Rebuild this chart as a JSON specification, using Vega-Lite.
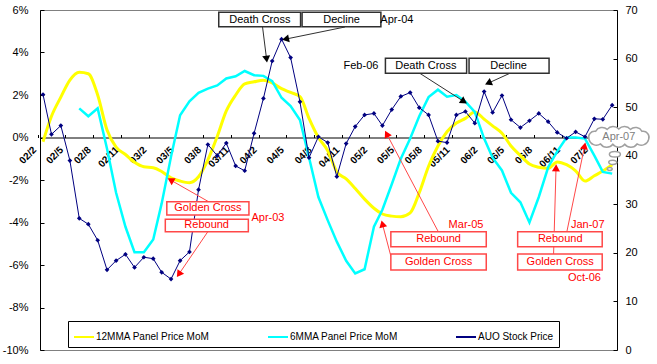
{
  "$schema": "https://vega.github.io/schema/vega-lite/v6.json",
  "width": 577,
  "height": 340,
  "autosize": {"type": "none"},
  "padding": {"left": 40, "top": 10, "right": 40, "bottom": 14},
  "background": "#ffffff",
  "config": {
    "view": {"stroke": "#808080", "strokeWidth": 1},
    "font": "Liberation Sans",
    "axis": {"labelFont": "Liberation Sans", "labelColor": "#000000", "domainColor": "#000000", "tickColor": "#000000", "grid": false, "labelFontSize": 11},
    "text": {"font": "Liberation Sans", "fontSize": 11}
  },
  "datasets": {
    "series": [
      {"date": "2002-02-01", "12MMA Panel Price MoM": -0.002, "6MMA Panel Price MoM": null, "AUO Stock Price": 52.6},
      {"date": "2002-03-01", "12MMA Panel Price MoM": 0.010, "6MMA Panel Price MoM": null, "AUO Stock Price": 44.4},
      {"date": "2002-04-01", "12MMA Panel Price MoM": 0.019, "6MMA Panel Price MoM": null, "AUO Stock Price": 46.2},
      {"date": "2002-05-01", "12MMA Panel Price MoM": 0.027, "6MMA Panel Price MoM": null, "AUO Stock Price": 39.0},
      {"date": "2002-06-01", "12MMA Panel Price MoM": 0.0307, "6MMA Panel Price MoM": 0.0137, "AUO Stock Price": 27.1},
      {"date": "2002-07-01", "12MMA Panel Price MoM": 0.030, "6MMA Panel Price MoM": 0.010, "AUO Stock Price": 25.9},
      {"date": "2002-08-01", "12MMA Panel Price MoM": 0.020, "6MMA Panel Price MoM": 0.0137, "AUO Stock Price": 22.6},
      {"date": "2002-09-01", "12MMA Panel Price MoM": 0.0035, "6MMA Panel Price MoM": -0.0053, "AUO Stock Price": 16.5},
      {"date": "2002-10-01", "12MMA Panel Price MoM": -0.0045, "6MMA Panel Price MoM": -0.026, "AUO Stock Price": 18.4},
      {"date": "2002-11-01", "12MMA Panel Price MoM": -0.008, "6MMA Panel Price MoM": -0.042, "AUO Stock Price": 19.7},
      {"date": "2002-12-01", "12MMA Panel Price MoM": -0.0117, "6MMA Panel Price MoM": -0.054, "AUO Stock Price": 17.0},
      {"date": "2003-01-01", "12MMA Panel Price MoM": -0.0138, "6MMA Panel Price MoM": -0.054, "AUO Stock Price": 19.1},
      {"date": "2003-02-01", "12MMA Panel Price MoM": -0.0142, "6MMA Panel Price MoM": -0.048, "AUO Stock Price": 18.8},
      {"date": "2003-03-01", "12MMA Panel Price MoM": -0.016, "6MMA Panel Price MoM": -0.031, "AUO Stock Price": 16.0},
      {"date": "2003-04-01", "12MMA Panel Price MoM": -0.019, "6MMA Panel Price MoM": -0.009, "AUO Stock Price": 14.6},
      {"date": "2003-05-01", "12MMA Panel Price MoM": -0.0205, "6MMA Panel Price MoM": 0.0105, "AUO Stock Price": 18.4},
      {"date": "2003-06-01", "12MMA Panel Price MoM": -0.0213, "6MMA Panel Price MoM": 0.017, "AUO Stock Price": 20.2},
      {"date": "2003-07-01", "12MMA Panel Price MoM": -0.0185, "6MMA Panel Price MoM": 0.021, "AUO Stock Price": 33.0},
      {"date": "2003-08-01", "12MMA Panel Price MoM": -0.0105, "6MMA Panel Price MoM": 0.023, "AUO Stock Price": 42.3},
      {"date": "2003-09-01", "12MMA Panel Price MoM": 0.0005, "6MMA Panel Price MoM": 0.0245, "AUO Stock Price": 40.0},
      {"date": "2003-10-01", "12MMA Panel Price MoM": 0.0125, "6MMA Panel Price MoM": 0.0278, "AUO Stock Price": 42.6},
      {"date": "2003-11-01", "12MMA Panel Price MoM": 0.020, "6MMA Panel Price MoM": 0.0288, "AUO Stock Price": 37.9},
      {"date": "2003-12-01", "12MMA Panel Price MoM": 0.0252, "6MMA Panel Price MoM": 0.0313, "AUO Stock Price": 36.9},
      {"date": "2004-01-01", "12MMA Panel Price MoM": 0.0262, "6MMA Panel Price MoM": 0.0293, "AUO Stock Price": 44.6},
      {"date": "2004-02-01", "12MMA Panel Price MoM": 0.027, "6MMA Panel Price MoM": 0.029, "AUO Stock Price": 51.8},
      {"date": "2004-03-01", "12MMA Panel Price MoM": 0.0257, "6MMA Panel Price MoM": 0.0265, "AUO Stock Price": 59.5},
      {"date": "2004-04-01", "12MMA Panel Price MoM": 0.023, "6MMA Panel Price MoM": 0.0187, "AUO Stock Price": 64.0},
      {"date": "2004-05-01", "12MMA Panel Price MoM": 0.0212, "6MMA Panel Price MoM": 0.0148, "AUO Stock Price": 60.2},
      {"date": "2004-06-01", "12MMA Panel Price MoM": 0.0192, "6MMA Panel Price MoM": 0.0082, "AUO Stock Price": 51.1},
      {"date": "2004-07-01", "12MMA Panel Price MoM": 0.009, "6MMA Panel Price MoM": -0.0094, "AUO Stock Price": 39.6},
      {"date": "2004-08-01", "12MMA Panel Price MoM": 0.000, "6MMA Panel Price MoM": -0.028, "AUO Stock Price": 43.9},
      {"date": "2004-09-01", "12MMA Panel Price MoM": -0.0062, "6MMA Panel Price MoM": -0.039, "AUO Stock Price": 42.7},
      {"date": "2004-10-01", "12MMA Panel Price MoM": -0.0161, "6MMA Panel Price MoM": -0.049, "AUO Stock Price": 35.7},
      {"date": "2004-11-01", "12MMA Panel Price MoM": -0.0195, "6MMA Panel Price MoM": -0.058, "AUO Stock Price": 42.5},
      {"date": "2004-12-01", "12MMA Panel Price MoM": -0.024, "6MMA Panel Price MoM": -0.064, "AUO Stock Price": 46.0},
      {"date": "2005-01-01", "12MMA Panel Price MoM": -0.029, "6MMA Panel Price MoM": -0.062, "AUO Stock Price": 48.4},
      {"date": "2005-02-01", "12MMA Panel Price MoM": -0.0333, "6MMA Panel Price MoM": -0.042, "AUO Stock Price": 48.7},
      {"date": "2005-03-01", "12MMA Panel Price MoM": -0.036, "6MMA Panel Price MoM": -0.034, "AUO Stock Price": 46.2},
      {"date": "2005-04-01", "12MMA Panel Price MoM": -0.037, "6MMA Panel Price MoM": -0.022, "AUO Stock Price": 49.5},
      {"date": "2005-05-01", "12MMA Panel Price MoM": -0.0373, "6MMA Panel Price MoM": -0.010, "AUO Stock Price": 52.2},
      {"date": "2005-06-01", "12MMA Panel Price MoM": -0.0355, "6MMA Panel Price MoM": -0.0005, "AUO Stock Price": 53.0},
      {"date": "2005-07-01", "12MMA Panel Price MoM": -0.026, "6MMA Panel Price MoM": 0.010, "AUO Stock Price": 49.9},
      {"date": "2005-08-01", "12MMA Panel Price MoM": -0.0135, "6MMA Panel Price MoM": 0.019, "AUO Stock Price": 48.4},
      {"date": "2005-09-01", "12MMA Panel Price MoM": -0.004, "6MMA Panel Price MoM": 0.0225, "AUO Stock Price": 43.0},
      {"date": "2005-10-01", "12MMA Panel Price MoM": 0.0027, "6MMA Panel Price MoM": 0.0192, "AUO Stock Price": 42.7},
      {"date": "2005-11-01", "12MMA Panel Price MoM": 0.0068, "6MMA Panel Price MoM": 0.020, "AUO Stock Price": 48.4},
      {"date": "2005-12-01", "12MMA Panel Price MoM": 0.009, "6MMA Panel Price MoM": 0.0169, "AUO Stock Price": 49.1},
      {"date": "2006-01-01", "12MMA Panel Price MoM": 0.012, "6MMA Panel Price MoM": 0.012, "AUO Stock Price": 46.7},
      {"date": "2006-02-01", "12MMA Panel Price MoM": 0.0086, "6MMA Panel Price MoM": -0.0005, "AUO Stock Price": 53.2},
      {"date": "2006-03-01", "12MMA Panel Price MoM": 0.0055, "6MMA Panel Price MoM": -0.0095, "AUO Stock Price": 48.9},
      {"date": "2006-04-01", "12MMA Panel Price MoM": 0.002, "6MMA Panel Price MoM": -0.0155, "AUO Stock Price": 52.4},
      {"date": "2006-05-01", "12MMA Panel Price MoM": -0.004, "6MMA Panel Price MoM": -0.026, "AUO Stock Price": 47.4},
      {"date": "2006-06-01", "12MMA Panel Price MoM": -0.0085, "6MMA Panel Price MoM": -0.0305, "AUO Stock Price": 45.8},
      {"date": "2006-07-01", "12MMA Panel Price MoM": -0.0125, "6MMA Panel Price MoM": -0.040, "AUO Stock Price": 47.2},
      {"date": "2006-08-01", "12MMA Panel Price MoM": -0.014, "6MMA Panel Price MoM": -0.028, "AUO Stock Price": 48.7},
      {"date": "2006-09-01", "12MMA Panel Price MoM": -0.0145, "6MMA Panel Price MoM": -0.014, "AUO Stock Price": 47.0},
      {"date": "2006-10-01", "12MMA Panel Price MoM": -0.0115, "6MMA Panel Price MoM": -0.0065, "AUO Stock Price": 44.8},
      {"date": "2006-11-01", "12MMA Panel Price MoM": -0.0128, "6MMA Panel Price MoM": 0.000, "AUO Stock Price": 43.6},
      {"date": "2006-12-01", "12MMA Panel Price MoM": -0.0157, "6MMA Panel Price MoM": 0.000, "AUO Stock Price": 44.9},
      {"date": "2007-01-01", "12MMA Panel Price MoM": -0.0205, "6MMA Panel Price MoM": -0.0005, "AUO Stock Price": 43.9},
      {"date": "2007-02-01", "12MMA Panel Price MoM": -0.018, "6MMA Panel Price MoM": -0.0085, "AUO Stock Price": 47.6},
      {"date": "2007-03-01", "12MMA Panel Price MoM": -0.0158, "6MMA Panel Price MoM": -0.0162, "AUO Stock Price": 47.5},
      {"date": "2007-04-01", "12MMA Panel Price MoM": -0.0128, "6MMA Panel Price MoM": -0.017, "AUO Stock Price": 50.4}
    ],
    "boxes": [
      {"label": "Death Cross", "signal": "bear", "date": "2003-09-06", "date2": "2004-06-03", "y": 0.0589, "y2": 0.0521},
      {"label": "Decline", "signal": "bear", "date": "2004-06-08", "date2": "2005-02-24", "y": 0.0589, "y2": 0.0521},
      {"label": "Death Cross", "signal": "bear", "date": "2005-03-11", "date2": "2005-12-05", "y": 0.0373, "y2": 0.0302},
      {"label": "Decline", "signal": "bear", "date": "2005-12-13", "date2": "2006-09-04", "y": 0.0373, "y2": 0.0302},
      {"label": "Golden Cross", "signal": "bull", "date": "2003-03-18", "date2": "2003-12-15", "y": -0.0302, "y2": -0.0365},
      {"label": "Rebound", "signal": "bull", "date": "2003-03-13", "date2": "2003-12-13", "y": -0.0385, "y2": -0.0443},
      {"label": "Rebound", "signal": "bull", "date": "2005-03-29", "date2": "2006-02-08", "y": -0.0443, "y2": -0.0514},
      {"label": "Golden Cross", "signal": "bull", "date": "2005-03-29", "date2": "2006-02-08", "y": -0.0548, "y2": -0.0624},
      {"label": "Rebound", "signal": "bull", "date": "2006-05-23", "date2": "2007-02-27", "y": -0.0443, "y2": -0.0514},
      {"label": "Golden Cross", "signal": "bull", "date": "2006-05-23", "date2": "2007-02-27", "y": -0.0548, "y2": -0.0624}
    ],
    "labels": [
      {"label": "Death Cross", "signal": "bear", "date": "2004-01-20", "y": 0.0555},
      {"label": "Decline", "signal": "bear", "date": "2004-10-17", "y": 0.0555},
      {"label": "Apr-04", "signal": "bear", "date": "2005-04-18", "y": 0.0552},
      {"label": "Death Cross", "signal": "bear", "date": "2005-07-23", "y": 0.0337},
      {"label": "Decline", "signal": "bear", "date": "2006-04-23", "y": 0.0337},
      {"label": "Feb-06", "signal": "bear", "date": "2004-12-20", "y": 0.0336},
      {"label": "Golden Cross", "signal": "bull", "date": "2003-08-01", "y": -0.0333},
      {"label": "Rebound", "signal": "bull", "date": "2003-07-28", "y": -0.0414},
      {"label": "Apr-03", "signal": "bull", "date": "2004-02-16", "y": -0.038},
      {"label": "Rebound", "signal": "bull", "date": "2005-09-03", "y": -0.0479},
      {"label": "Golden Cross", "signal": "bull", "date": "2005-09-03", "y": -0.0586},
      {"label": "Mar-05", "signal": "bull", "date": "2005-12-03", "y": -0.0412},
      {"label": "Rebound", "signal": "bull", "date": "2006-10-11", "y": -0.0479},
      {"label": "Golden Cross", "signal": "bull", "date": "2006-10-11", "y": -0.0586},
      {"label": "Jan-07", "signal": "bull", "date": "2007-01-10", "y": -0.0412},
      {"label": "Oct-06", "signal": "bull", "date": "2006-12-30", "y": -0.066}
    ],
    "arrows": [
      {"id": "a1", "signal": "bear", "date": "2004-02-11", "y": 0.0374, "date2": "2004-01-29", "y2": 0.0521},
      {"id": "a2", "signal": "bear", "date": "2004-04-18", "y": 0.0464, "date2": "2004-10-28", "y2": 0.052},
      {"id": "a3", "signal": "bear", "date": "2005-11-23", "y": 0.0172, "date2": "2005-07-03", "y2": 0.0302},
      {"id": "a4", "signal": "bear", "date": "2006-02-18", "y": 0.0258, "date2": "2006-04-27", "y2": 0.0302},
      {"id": "a5", "signal": "bull", "date": "2003-04-03", "y": -0.0203, "date2": "2003-08-02", "y2": -0.0301},
      {"id": "a6", "signal": "bull", "date": "2003-04-29", "y": -0.0639, "date2": "2003-08-01", "y2": -0.0443},
      {"id": "a7", "signal": "bull", "date": "2005-03-17", "y": 0.0012, "date2": "2005-09-02", "y2": -0.0443},
      {"id": "a8", "signal": "bull", "date": "2005-03-02", "y": -0.0412, "date2": "2005-03-29", "y2": -0.0558},
      {"id": "a9", "signal": "bull", "date": "2006-09-27", "y": -0.0148, "date2": "2006-09-19", "y2": -0.0548},
      {"id": "a10", "signal": "bull", "date": "2006-12-30", "y": -0.0045, "date2": "2006-11-02", "y2": -0.0443}
    ],
    "callout": [
      {"part": "cloud", "label": "Apr-07", "date": "2007-04-23", "y": 0.0004},
      {"part": "b1", "date": "2007-04-10", "y": -0.0079},
      {"part": "b2", "date": "2007-04-03", "y": -0.0117},
      {"part": "b3", "date": "2007-03-24", "y": -0.0148}
    ]
  },
  "encoding": {
    "x": {
      "field": "date",
      "type": "temporal",
      "title": null,
      "scale": {"type": "utc", "nice": false, "domain": [{"year": 2002, "month": 1, "date": 22, "utc": true}, {"year": 2007, "month": 4, "date": 17, "utc": true}]},
      "axis": {
        "title": null,
        "orient": "bottom",
        "offset": -212.5,
        "values": [
          {"year": 2002, "month": 2, "date": 1, "utc": true}, {"year": 2002, "month": 5, "date": 1, "utc": true}, {"year": 2002, "month": 8, "date": 1, "utc": true}, {"year": 2002, "month": 11, "date": 1, "utc": true},
          {"year": 2003, "month": 2, "date": 1, "utc": true}, {"year": 2003, "month": 5, "date": 1, "utc": true}, {"year": 2003, "month": 8, "date": 1, "utc": true}, {"year": 2003, "month": 11, "date": 1, "utc": true},
          {"year": 2004, "month": 2, "date": 1, "utc": true}, {"year": 2004, "month": 5, "date": 1, "utc": true}, {"year": 2004, "month": 8, "date": 1, "utc": true}, {"year": 2004, "month": 11, "date": 1, "utc": true},
          {"year": 2005, "month": 2, "date": 1, "utc": true}, {"year": 2005, "month": 5, "date": 1, "utc": true}, {"year": 2005, "month": 8, "date": 1, "utc": true}, {"year": 2005, "month": 11, "date": 1, "utc": true},
          {"year": 2006, "month": 2, "date": 1, "utc": true}, {"year": 2006, "month": 5, "date": 1, "utc": true}, {"year": 2006, "month": 8, "date": 1, "utc": true}, {"year": 2006, "month": 11, "date": 1, "utc": true},
          {"year": 2007, "month": 2, "date": 1, "utc": true}
        ],
        "format": "%y/%-m",
        "labelAngle": -45,
        "labelAlign": "right",
        "labelBaseline": "middle",
        "labelFontWeight": "bold",
        "labelFontSize": 10,
        "tickSize": -3,
        "tickOffset": -4.6,
        "labelOffset": -4,
        "labelPadding": 13.5,
        "labelOverlap": false,
        "labelFlush": false
      }
    }
  },
  "layer": [
    {
      "data": {"name": "series"},
      "layer": [
        {
          "mark": {"type": "line", "strokeWidth": 3, "interpolate": "monotone"},
          "encoding": {
            "y": {
              "field": "12MMA Panel Price MoM", "type": "quantitative", "title": null,
              "scale": {"domain": [-0.1, 0.06], "nice": false, "zero": false},
              "axis": {"orient": "left", "title": null, "values": [-0.1, -0.08, -0.06, -0.04, -0.02, 0, 0.02, 0.04, 0.06], "labelExpr": "toString(round(datum.value * 100)) + '%'", "tickSize": -4, "labelPadding": 16, "labelFontSize": 11}
            },
            "color": {
              "datum": "12MMA Panel Price MoM", "type": "nominal",
              "scale": {"domain": ["12MMA Panel Price MoM", "6MMA Panel Price MoM", "AUO Stock Price"], "range": ["#ffff00", "#00ffff", "#000080"]},
              "legend": {"orient": "none", "legendX": 28, "legendY": 311, "direction": "horizontal", "title": null, "symbolType": "stroke", "symbolSize": 400, "symbolStrokeWidth": 2, "labelFont": "Liberation Sans", "labelFontSize": 10, "labelColor": "#000000", "columnPadding": 54, "padding": 5, "strokeColor": "#000000", "labelOffset": 1}
            }
          }
        },
        {
          "mark": {"type": "line", "strokeWidth": 2.5},
          "encoding": {
            "y": {"field": "6MMA Panel Price MoM", "type": "quantitative", "title": null},
            "color": {"datum": "6MMA Panel Price MoM", "type": "nominal"}
          }
        }
      ]
    },
    {
      "data": {"name": "series"},
      "encoding": {
        "y": {
          "field": "AUO Stock Price", "type": "quantitative", "title": null,
          "scale": {"domain": [0, 70], "nice": false},
          "axis": {"orient": "right", "title": null, "values": [0, 10, 20, 30, 40, 50, 60, 70], "tickSize": -4, "labelPadding": 12, "labelFontSize": 11}
        },
        "color": {"datum": "AUO Stock Price", "type": "nominal"}
      },
      "layer": [
        {"mark": {"type": "line", "strokeWidth": 1}},
        {"mark": {"type": "point", "shape": "diamond", "filled": true, "size": 22, "opacity": 1}}
      ]
    },
    {
      "encoding": {
        "y": {"field": "y", "type": "quantitative", "title": null, "scale": {"domain": [-0.1, 0.06], "nice": false, "zero": false}, "axis": null}
      },
      "layer": [
        {
          "data": {"name": "arrows"},
          "mark": {"type": "rule", "strokeWidth": 1},
          "encoding": {
            "x2": {"field": "date2"},
            "y2": {"field": "y2"},
            "stroke": {"field": "signal", "type": "nominal", "scale": {"domain": ["bear", "bull"], "range": ["#303030", "#ff4848"]}, "legend": null}
          }
        },
        {
          "data": {"name": "boxes"},
          "mark": {"type": "rect", "fill": "#ffffff", "strokeWidth": 1.5},
          "encoding": {
            "x2": {"field": "date2"},
            "y2": {"field": "y2"},
            "stroke": {"field": "signal", "type": "nominal", "legend": null}
          }
        },
        {
          "data": {"name": "labels"},
          "mark": {"type": "text", "align": "center", "baseline": "middle", "fontSize": 11, "font": "Liberation Sans"},
          "encoding": {
            "text": {"field": "label"},
            "fill": {"field": "signal", "type": "nominal", "scale": {"domain": ["bear", "bull"], "range": ["#000000", "#ff0000"]}, "legend": null}
          }
        },
        {
          "data": {"name": "arrows"},
          "encoding": {
            "fill": {"field": "signal", "type": "nominal", "legend": null}
          },
          "layer": [
            {"transform": [{"filter": "datum.id === 'a1'"}], "mark": {"type": "point", "shape": "triangle", "angle": 173.1, "filled": true, "size": 64, "opacity": 1, "strokeWidth": 0}},
            {"transform": [{"filter": "datum.id === 'a2'"}], "mark": {"type": "point", "shape": "triangle", "angle": 258.3, "filled": true, "size": 64, "opacity": 1, "strokeWidth": 0}},
            {"transform": [{"filter": "datum.id === 'a3'"}], "mark": {"type": "point", "shape": "triangle", "angle": 123.3, "filled": true, "size": 64, "opacity": 1, "strokeWidth": 0}},
            {"transform": [{"filter": "datum.id === 'a4'"}], "mark": {"type": "point", "shape": "triangle", "angle": 245.6, "filled": true, "size": 64, "opacity": 1, "strokeWidth": 0}},
            {"transform": [{"filter": "datum.id === 'a5'"}], "mark": {"type": "point", "shape": "triangle", "angle": 299.7, "filled": true, "size": 64, "opacity": 1, "strokeWidth": 0}},
            {"transform": [{"filter": "datum.id === 'a6'"}], "mark": {"type": "point", "shape": "triangle", "angle": 214.2, "filled": true, "size": 64, "opacity": 1, "strokeWidth": 0}},
            {"transform": [{"filter": "datum.id === 'a7'"}], "mark": {"type": "point", "shape": "triangle", "angle": 332.3, "filled": true, "size": 64, "opacity": 1, "strokeWidth": 0}},
            {"transform": [{"filter": "datum.id === 'a8'"}], "mark": {"type": "point", "shape": "triangle", "angle": 345.5, "filled": true, "size": 64, "opacity": 1, "strokeWidth": 0}},
            {"transform": [{"filter": "datum.id === 'a9'"}], "mark": {"type": "point", "shape": "triangle", "angle": 1.8, "filled": true, "size": 64, "opacity": 1, "strokeWidth": 0}},
            {"transform": [{"filter": "datum.id === 'a10'"}], "mark": {"type": "point", "shape": "triangle", "angle": 11.5, "filled": true, "size": 64, "opacity": 1, "strokeWidth": 0}}
          ]
        },
        {
          "data": {"name": "callout"},
          "layer": [
            {
              "transform": [{"filter": "datum.part === 'cloud'"}],
              "mark": {"type": "point", "shape": "M-0.9,0.08A0.18,0.18 0 0,1 -0.7,-0.16A0.23,0.23 0 0,1 -0.35,-0.22A0.23,0.23 0 0,1 0,-0.23A0.23,0.23 0 0,1 0.35,-0.22A0.23,0.23 0 0,1 0.7,-0.16A0.18,0.18 0 0,1 0.9,0.08A0.23,0.23 0 0,1 0.55,0.22A0.23,0.23 0 0,1 0.18,0.23A0.23,0.23 0 0,1 -0.18,0.23A0.23,0.23 0 0,1 -0.55,0.22A0.23,0.23 0 0,1 -0.9,0.08Z", "size": 4400, "filled": true, "fill": "#ffffff", "stroke": "#a0a0a0", "strokeWidth": 1.5, "opacity": 1}
            },
            {
              "transform": [{"filter": "datum.part !== 'cloud'"}],
              "mark": {"type": "point", "size": 121, "filled": true, "fill": "#ffffff", "stroke": "#a0a0a0", "strokeWidth": 1.5, "opacity": 1},
              "encoding": {
                "shape": {"field": "part", "type": "nominal", "scale": {"domain": ["b1", "b2", "b3"], "range": ["M-1,0A1,0.5 0 1,1 1,0A1,0.5 0 1,1 -1,0Z", "M-0.73,0A0.73,0.38 0 1,1 0.73,0A0.73,0.38 0 1,1 -0.73,0Z", "M-0.45,0A0.45,0.27 0 1,1 0.45,0A0.45,0.27 0 1,1 -0.45,0Z"]}, "legend": null}
              }
            },
            {
              "transform": [{"filter": "datum.part === 'cloud'"}],
              "mark": {"type": "text", "align": "center", "baseline": "middle", "fontSize": 11, "fill": "#808080", "font": "Liberation Sans"},
              "encoding": {"text": {"field": "label"}}
            }
          ]
        }
      ]
    }
  ],
  "resolve": {"scale": {"y": "independent"}}
}
